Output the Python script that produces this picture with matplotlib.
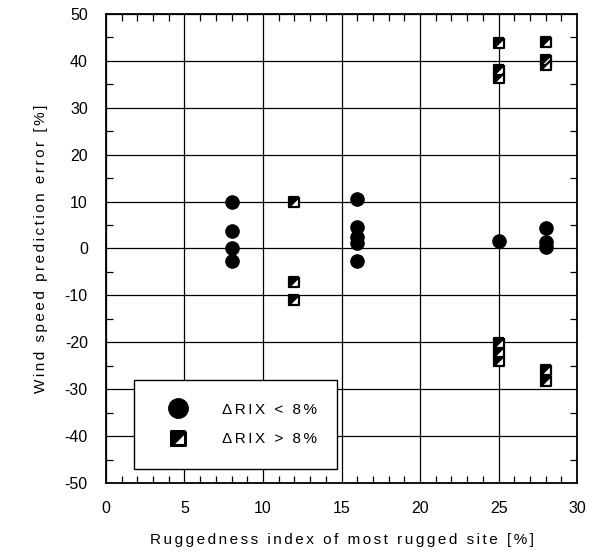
import matplotlib
matplotlib.use("Agg")
from matplotlib import pyplot as plt
from matplotlib.lines import Line2D
from matplotlib.markers import MarkerStyle
from matplotlib.transforms import Affine2D
from matplotlib.ticker import MultipleLocator

plt.rcParams['font.family'] = ['Liberation Sans', 'DejaVu Sans']
plt.rcParams['axes.unicode_minus'] = False

# RIX difference below 8 % (filled circles)
low_x = [8, 8, 8, 8, 16, 16, 16, 16, 16, 25, 28, 28, 28]
low_err = [10.0, 3.8, 0.0, -2.7, 10.5, 4.5, 2.5, 1.2, -2.7, 1.6, 4.3, 1.3, 0.4]

# RIX difference above 8 % (half filled squares)
high_x = [12, 12, 12, 25, 25, 25, 25, 25, 25, 28, 28, 28, 28, 28]
high_err = [10.0, -7.1, -11.0, 43.7, 38.1, 36.4, -20.2, -22.0, -23.9,
            44.0, 40.2, 39.2, -25.9, -28.3]

x_ticks = [0, 5, 10, 15, 20, 25, 30]
y_ticks = [-50, -40, -30, -20, -10, 0, 10, 20, 30, 40, 50]

# diamond split along its vertical diagonal, turned into a square
# black upper-left half, white lower-right half
half_sq = MarkerStyle('D', fillstyle='left', transform=Affine2D().rotate_deg(-45),
                      joinstyle='round')


def spaced(s):
    # wide letter spacing like the original
    return '\u2006'.join(s)


fig = plt.figure(figsize=(5.95, 5.54), dpi=100)
ax = fig.add_axes([0.178, 0.128, 0.792, 0.847])

ax.plot(low_x, low_err, 'o', color='black', markersize=9.5, zorder=3)
ax.plot(high_x, high_err, marker=half_sq, fillstyle='left', linestyle='none',
        markerfacecolor='black', markerfacecoloralt='white',
        markeredgecolor='black', markeredgewidth=1.6, markersize=7.5, zorder=3)

ax.set_xlim(0, 30)
ax.set_ylim(-50, 50)
ax.set_xticks(x_ticks)
ax.set_yticks(y_ticks)
ax.xaxis.set_minor_locator(MultipleLocator(1))
ax.yaxis.set_minor_locator(MultipleLocator(5))
ax.grid(True, which='major', color='black', linewidth=0.9)
ax.set_axisbelow(True)
for sp in ax.spines.values():
    sp.set_linewidth(1.3)

ax.tick_params(which='both', direction='in', top=True, right=True, labelsize=11.5)
ax.tick_params(which='major', length=0, pad=13)
ax.tick_params(which='minor', length=5, width=0.9)

ax.set_xlabel(spaced('Ruggedness index of most rugged site [%]'), fontsize=11, labelpad=12)
ax.set_ylabel(spaced('Wind speed prediction error [%]'), fontsize=11, labelpad=12)

h_low = Line2D([], [], marker='o', color='black', linestyle='none', markersize=14)
h_high = Line2D([], [], marker=half_sq, fillstyle='left', linestyle='none',
                markerfacecolor='black', markerfacecoloralt='white',
                markeredgecolor='black', markeredgewidth=2.2, markersize=10.5)
leg = ax.legend([h_low, h_high],
                [spaced('ΔRIX < 8%'), spaced('ΔRIX > 8%')],
                loc='lower left', bbox_to_anchor=(0.059, 0.03, 0.431, 0.2),
                mode='expand', borderaxespad=0, fancybox=False,
                edgecolor='black', framealpha=1, fontsize=11,
                borderpad=1.5, labelspacing=1.0, handlelength=2.8,
                handletextpad=1.5)
leg.get_frame().set_linewidth(1.0)

fig.savefig('out.png', dpi=100)
